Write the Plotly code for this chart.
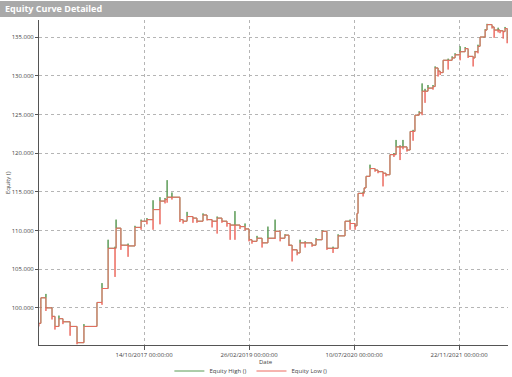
import plotly.graph_objects as go

dates = ["2016-06-01","2016-06-10","2016-07-04","2016-08-02","2016-08-16","2016-09-04","2016-09-23","2016-10-27","2016-11-29","2017-01-01",
"2017-03-04","2017-03-28","2017-04-26","2017-05-29","2017-06-03","2017-06-26","2017-07-30","2017-09-01","2017-09-30","2017-10-28",
"2017-11-26","2017-12-29","2018-01-22","2018-02-01","2018-02-24","2018-04-03","2018-04-18","2018-05-07","2018-06-04","2018-06-23",
"2018-07-22","2018-08-10","2018-09-03","2018-09-27","2018-10-20","2018-11-13","2018-11-28","2018-12-21","2019-01-14","2019-02-07",
"2019-02-26","2019-03-12","2019-04-05","2019-04-29","2019-05-27","2019-06-30","2019-07-24","2019-08-16","2019-09-04","2019-09-19",
"2019-10-13","2019-10-27","2019-11-20","2019-12-23","2020-01-11","2020-02-09","2020-03-03","2020-04-01","2020-04-25","2020-05-28",
"2020-06-21","2020-07-15","2020-07-24","2020-07-29","2020-08-22","2020-08-27","2020-09-05","2020-09-24","2020-10-18","2020-11-01",
"2020-11-25","2020-12-09","2020-12-28","2021-01-16","2021-01-26","2021-02-14","2021-02-28","2021-03-19","2021-04-03","2021-04-17",
"2021-04-26","2021-05-16","2021-05-30","2021-06-13","2021-06-27","2021-07-21","2021-07-31","2021-08-14","2021-08-24","2021-09-07",
"2021-10-01","2021-10-20","2021-11-03","2021-11-27","2021-12-21","2022-01-04","2022-01-28","2022-02-06","2022-02-20","2022-03-02",
"2022-03-26","2022-04-04","2022-04-28","2022-05-08","2022-05-27","2022-06-05","2022-06-20","2022-06-29","2022-07-09"]

equity_close = [98.0,101.3,100.0,98.9,97.6,98.6,98.2,97.6,95.5,97.6,
100.7,102.5,107.7,107.7,110.3,108.1,108.0,110.4,111.2,111.4,
112.7,113.8,114.0,114.3,114.3,111.4,111.2,111.8,111.6,111.2,
112.0,111.4,111.2,111.6,111.2,110.9,110.7,110.7,110.5,110.2,
108.8,108.6,109.0,108.4,109.0,109.9,109.0,109.4,108.1,107.5,
107.1,108.4,108.4,108.1,108.8,109.9,107.7,107.7,109.3,111.2,
110.9,110.6,112.2,114.8,114.8,115.5,117.0,118.0,117.8,117.6,
117.4,117.2,119.8,119.8,120.8,120.8,120.8,120.4,122.8,122.8,
124.9,125.2,128.0,128.0,128.4,128.6,131.0,130.6,130.4,132.0,
132.0,132.3,132.7,133.1,133.5,132.5,132.3,133.1,133.8,135.0,
135.9,136.6,136.3,135.9,135.9,135.8,135.7,136.1,134.6]

equity_high = [98.0,101.3,101.8,100.0,98.9,99.0,98.6,98.2,97.6,97.9,
100.7,103.2,108.8,107.9,111.4,110.3,108.3,110.6,111.4,111.6,
113.9,114.3,114.2,116.5,114.9,114.3,111.4,112.4,111.8,111.6,
112.2,112.0,111.4,111.8,111.6,111.2,110.9,112.5,110.7,110.9,
110.2,108.8,109.3,109.0,110.5,111.4,109.9,109.5,109.4,107.7,
107.5,108.8,108.6,108.4,109.0,110.0,109.9,107.9,109.5,111.2,
111.4,110.9,112.2,114.8,115.0,115.5,117.0,118.5,118.0,117.8,
117.6,117.4,119.8,120.0,121.7,121.0,121.7,120.8,122.8,123.0,
124.9,125.4,129.0,128.3,128.8,128.8,131.2,131.0,130.6,132.0,
132.2,132.5,132.9,133.8,133.7,133.5,132.5,133.2,134.0,135.0,
136.0,136.7,136.6,136.3,136.2,135.9,135.8,136.3,136.1]

equity_low = [97.6,99.5,99.6,98.5,97.2,97.6,97.9,96.4,95.3,95.5,
97.6,100.4,102.5,104.0,107.7,107.5,106.6,108.0,110.1,110.8,
110.1,110.8,113.5,113.6,114.0,111.1,110.9,111.2,111.0,111.0,
111.2,111.3,110.4,109.6,111.0,110.5,108.8,108.8,110.2,110.0,
108.6,108.3,108.6,107.8,108.4,108.9,108.6,109.0,108.0,106.0,
106.8,107.1,107.8,107.9,108.1,108.8,107.5,107.1,107.7,109.3,
110.1,110.1,110.6,112.2,114.4,114.8,115.5,117.0,117.6,117.4,
115.7,117.0,117.2,119.5,119.8,119.1,120.5,120.2,120.4,121.6,
122.8,124.9,124.9,126.5,128.0,128.2,128.6,129.9,130.1,130.4,
130.8,132.0,132.3,132.0,133.1,132.3,131.2,132.3,132.9,133.8,
135.0,135.9,136.1,134.9,135.6,135.5,134.8,135.7,134.2]

tick_dates = ["2017-10-14", "2019-02-26", "2020-07-10", "2021-11-22"]
tick_labels = ["14/10/2017 00:00:00", "26/02/2019 00:00:00", "10/07/2020 00:00:00", "22/11/2021 00:00:00"]
y_ticks = [100000, 105000, 110000, 115000, 120000, 125000, 130000, 135000]


def build_path(extreme):
    xs, ys = [], []
    prev = None
    for d, c, e in zip(dates, equity_close, extreme):
        if prev is not None:
            xs.append(d); ys.append(prev * 1000)
        xs.append(d); ys.append(e * 1000)
        xs.append(d); ys.append(c * 1000)
        prev = c
    return xs, ys


hx, hy = build_path(equity_high)
lx, ly = build_path(equity_low)

fig = go.Figure()
fig.add_trace(go.Scatter(x=hx, y=hy, mode="lines", name="Equity High ()",
                         line=dict(color="#5a9a55", width=1)))
fig.add_trace(go.Scatter(x=lx, y=ly, mode="lines", name="Equity Low ()",
                         line=dict(color="#ec6a60", width=1)))

font = "Open Sans, Noto Sans, sans-serif"
fig.update_layout(
    width=512, height=377,
    margin=dict(l=39, r=4, t=20, b=32),
    paper_bgcolor="white", plot_bgcolor="white",
    separators=",.",
    font=dict(family=font, size=6, color="#444"),
    showlegend=True,
    legend=dict(orientation="h", xref="container", yref="container",
                x=0.49, xanchor="center", y=6/377, yanchor="middle",
                font=dict(size=6, color="#444"), itemwidth=30, tracegroupgap=0,
                bgcolor="rgba(0,0,0,0)"),
    xaxis=dict(type="date", range=["2016-06-01", "2022-07-13"], automargin=False,
               tickvals=tick_dates, ticktext=tick_labels,
               showgrid=True, gridcolor="#b5b5b5", griddash="dot", gridwidth=1,
               showline=True, linecolor="#555", linewidth=1,
               ticks="outside", ticklen=4, tickcolor="#555",
               tickfont=dict(size=6, color="#444"),
               zeroline=False),
    yaxis=dict(range=[95200, 137200], tickvals=y_ticks, tickformat=",d", automargin=False,
               showgrid=True, gridcolor="#b5b5b5", griddash="dot", gridwidth=1,
               showline=True, linecolor="#555", linewidth=1,
               ticks="outside", ticklen=3, tickcolor="#555",
               tickfont=dict(size=6, color="#444"),
               zeroline=False),
)

# axis titles
fig.add_annotation(text="Date", xref="paper", yref="paper", x=(266 - 39) / 469,
                   y=-(362 - 345) / 325, xanchor="center", yanchor="middle",
                   showarrow=False, font=dict(family=font, size=6, color="#444"))
fig.add_annotation(text="Equity ()", xref="paper", yref="paper", x=-(39 - 8) / 469,
                   y=(345 - 183) / 325, xanchor="center", yanchor="middle", textangle=-90,
                   showarrow=False, font=dict(family=font, size=6, color="#444"))

# header bar
fig.add_shape(type="rect", xref="paper", yref="paper",
              x0=-39/469, x1=1+4/469, y0=1+3/325, y1=1+19/325,
              fillcolor="#a9a9a9", line=dict(width=0), layer="above")
fig.add_annotation(text="<b>Equity Curve Detailed</b>", xref="paper", yref="paper",
                   x=-36/469, y=1+11/325, xanchor="left", yanchor="middle",
                   showarrow=False, font=dict(family=font, size=9, color="white"))

fig.write_html("out.html", config={"displayModeBar": False},
               post_script="document.body.style.margin='0';")
